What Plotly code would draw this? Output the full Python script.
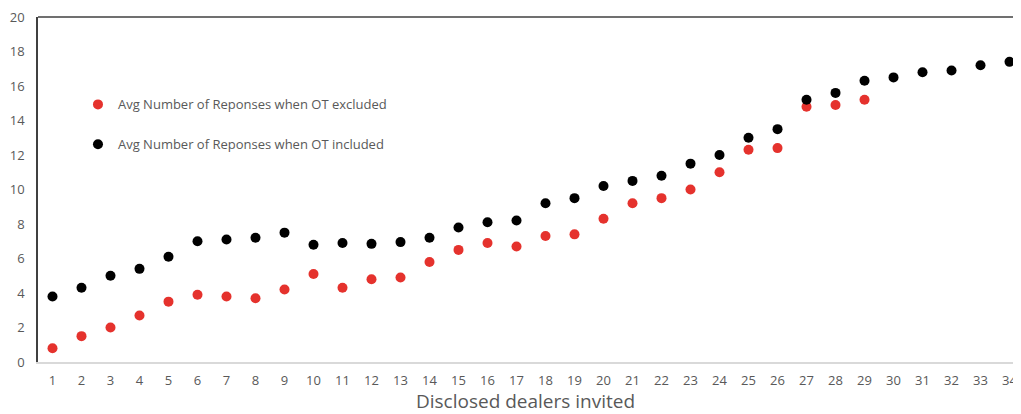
import plotly.graph_objects as go

dealers = list(range(1, 35))
ot_excluded = [0.8, 1.5, 2.0, 2.7, 3.5, 3.9, 3.8, 3.7, 4.2, 5.1, 4.3, 4.8, 4.9, 5.8, 6.5, 6.9, 6.7,
               7.3, 7.4, 8.3, 9.2, 9.5, 10.0, 11.0, 12.3, 12.4, 14.8, 14.9, 15.2]
ot_included = [3.8, 4.3, 5.0, 5.4, 6.1, 7.0, 7.1, 7.2, 7.5, 6.8, 6.9, 6.85, 6.95, 7.2, 7.8, 8.1, 8.2,
               9.2, 9.5, 10.2, 10.5, 10.8, 11.5, 12.0, 13.0, 13.5, 15.2, 15.6, 16.3, 16.5, 16.8,
               16.9, 17.2, 17.4]
y_ticks = list(range(0, 21, 2))

FONT = "Open Sans"
GREY = "#595959"

fig = go.Figure()
fig.add_trace(go.Scatter(
    x=dealers[:len(ot_excluded)], y=ot_excluded, mode="markers",
    name="Avg Number of Reponses when OT excluded", legendgroup="a",
    marker=dict(color="#E5322D", size=10)))
fig.add_trace(go.Scatter(
    x=dealers, y=ot_included, mode="markers",
    name="Avg Number of Reponses when OT included", legendgroup="b",
    marker=dict(color="#000000", size=10)))

fig.update_layout(
    width=1005, height=406,
    margin=dict(l=30, r=0, t=9, b=52),
    paper_bgcolor="white", plot_bgcolor="white",
    font=dict(family=FONT, color=GREY, size=13),
    showlegend=True,
    legend=dict(x=0.041, y=0.79, xanchor="left", yanchor="top",
                traceorder="grouped", tracegroupgap=20,
                bgcolor="rgba(0,0,0,0)", font=dict(size=13, color=GREY)),
    xaxis=dict(range=[0.5, 34.12], tickmode="array", tickvals=dealers,
               ticktext=[str(d) for d in dealers], showgrid=False, zeroline=False,
               showline=True, linecolor="#D9D9D9", linewidth=2, ticks="",
               ticklabelstandoff=5, tickfont=dict(size=13), ticklabeloverflow="allow",
               automargin=False,
               title=dict(text="Disclosed dealers invited", font=dict(size=19, color=GREY), standoff=9)),
    yaxis=dict(range=[0, 20], tickmode="array", tickvals=y_ticks, showgrid=False,
               zeroline=False, showline=True, linecolor="#404040", linewidth=1.5,
               ticks="", ticklabelstandoff=9, tickfont=dict(size=13), ticklabeloverflow="allow",
               automargin=False),
    shapes=[dict(type="line", xref="paper", yref="paper", x0=0, x1=1, y0=1, y1=1,
                 line=dict(color="#404040", width=1.5))],
)

fig.write_html("out.html")
